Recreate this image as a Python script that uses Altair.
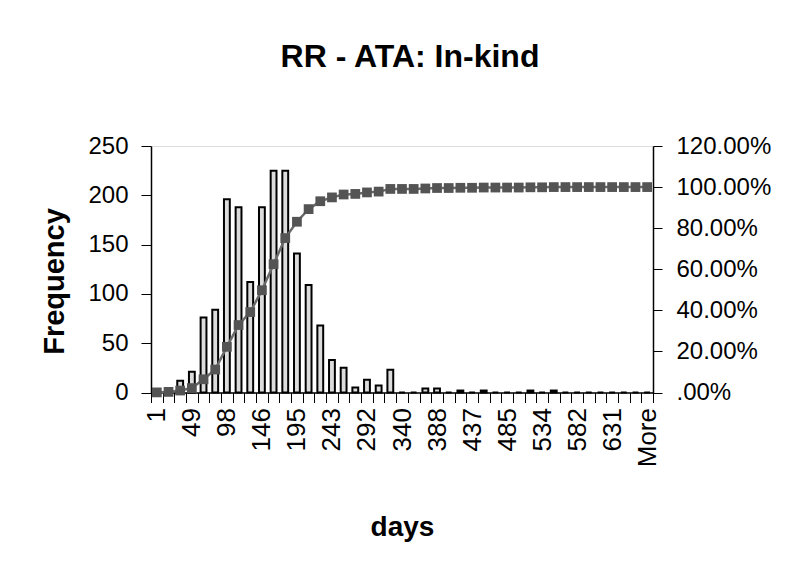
import json
import altair as alt
import pandas as pd

# ---- data -------------------------------------------------------------------
categories = ["1", "17", "33", "49", "66", "82", "98", "114", "130", "146",
              "163", "179", "195", "211", "227", "243", "260", "276", "292", "308",
              "324", "340", "356", "372", "388", "405", "421", "437", "453", "469",
              "485", "502", "518", "534", "550", "566", "582", "599", "615", "631",
              "647", "663", "More"]
frequency = [1, 4, 12, 21, 76, 84, 196, 188, 112, 188,
             225, 225, 141, 109, 68, 33, 25, 5, 13, 7,
             23, 0, 0, 4, 4, 0, 2, 0, 2, 0,
             0, 0, 2, 0, 2, 0, 0, 0, 0, 0,
             0, 0, 0]
shown_labels = ["1", "49", "98", "146", "195", "243", "292", "340", "388",
                "437", "485", "534", "582", "631", "More"]
freq_ticks = [0, 50, 100, 150, 200, 250]
pct_ticks = [0.0, 0.2, 0.4, 0.6, 0.8, 1.0, 1.2]

df = pd.DataFrame({"bin": categories, "freq": frequency})
df["cum"] = df["freq"].cumsum() / df["freq"].sum()

FONT = "Liberation Sans, Arial, sans-serif"
label_expr = "indexof(" + json.dumps(shown_labels) + ", datum.label) >= 0 ? datum.label : ''"

x = alt.X(
    "bin:N", sort=categories, title="days",
    scale=alt.Scale(paddingInner=0, paddingOuter=0),
    axis=alt.Axis(
        labelExpr=label_expr, labelAngle=270, labelOverlap=False,
        labelFont=FONT, labelFontSize=26, labelColor="black", labelPadding=5,
        tickBand="extent", tickSize=10, tickColor="black", tickWidth=1,
        domainColor="black", domainWidth=1.5,
        titleFont=FONT, titleFontSize=28, titleFontWeight="bold", titleColor="black",
        titleBaseline="alphabetic", titleY=143, titleAlign="center",
    ),
)

bars = alt.Chart(df).mark_bar(
    width=alt.RelativeBandSize(0.5), fill="#dcdcdc", stroke="black", strokeWidth=2
).encode(
    x=x,
    y=alt.Y(
        "freq:Q", title="Frequency",
        scale=alt.Scale(domain=[0, 250], nice=False),
        axis=alt.Axis(
            values=freq_ticks, grid=False, tickSize=10, tickColor="black",
            domainColor="black", domainWidth=1.5, labelPadding=13,
            labelFont=FONT, labelFontSize=24, labelColor="black",
            titleFont=FONT, titleFontSize=29, titleFontWeight="bold", titleColor="black",
            titleAngle=270, titleBaseline="alphabetic", titleAlign="center",
            titleX=-88, titleY=135,
        ),
    ),
)

cum_y = alt.Y(
    "cum:Q", title=None,
    scale=alt.Scale(domain=[0, 1.2], nice=False),
    axis=alt.Axis(
        orient="right", values=pct_ticks, grid=False,
        labelExpr="datum.value == 0 ? '.00%' : format(datum.value, '.2%')",
        tickSize=9, tickColor="black", domainColor="black", domainWidth=1.5,
        labelPadding=14, labelFont=FONT, labelFontSize=24, labelColor="black",
    ),
)

line = alt.Chart(df).mark_line(color="#6a6a6a", strokeWidth=2.5).encode(x=x, y=cum_y)
pts = alt.Chart(df).mark_square(size=95, color="#545454", opacity=1).encode(x=x, y=cum_y)

chart = alt.layer(bars, alt.layer(line, pts)).resolve_scale(y="independent").properties(
    width=502, height=246.5,
    autosize=alt.AutoSizeParams(type="none"),
    padding={"left": 151, "top": 146, "right": 135, "bottom": 180.5},
    title=alt.TitleParams(
        "RR - ATA: In-kind", font=FONT, fontSize=32, fontWeight="bold",
        color="black", anchor="middle", frame="group", offset=60, dx=8,
    ),
).configure_view(fill="#bababa", stroke="#7a7a7a").configure(background="white")

chart.save("out.html", embed_options={"renderer": "svg", "actions": False})
